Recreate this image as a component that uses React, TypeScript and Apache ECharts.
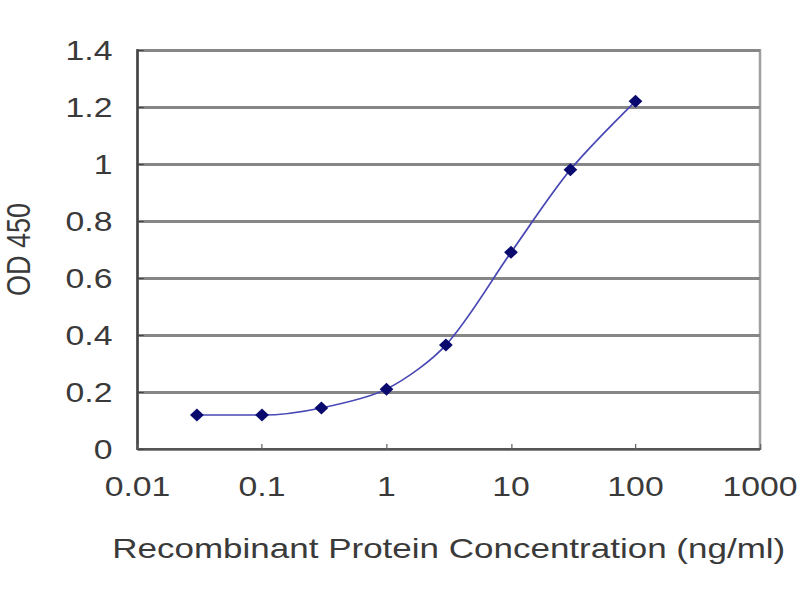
import React, { useEffect, useRef } from "react";
import * as echarts from "echarts";

const concentrations = [0.03, 0.1, 0.3, 1, 3, 10, 30, 100];
const odValues = [0.119, 0.119, 0.144, 0.21, 0.365, 0.69, 0.98, 1.22];
const xTitle = "Recombinant Protein Concentration (ng/ml)";
const yTitle = "OD 450";

const STRETCH = 1.25;

export default function App() {
  const ref = useRef<HTMLDivElement>(null);
  useEffect(() => {
    if (!ref.current) return;
    const chart = echarts.init(ref.current, undefined, { renderer: "svg" });
    const font = "Liberation Sans, Arial, sans-serif";
    chart.setOption({
      animation: false,
      backgroundColor: "#ffffff",
      grid: {
        left: 110,
        right: 32,
        top: 50,
        bottom: 151,
        outerBoundsMode: "none",
        containLabel: false,
        show: true,
        borderColor: "#a0a0a0",
        borderWidth: 2,
      },
      xAxis: {
        type: "log",
        logBase: 10,
        min: 0.01,
        max: 1000,
        name: xTitle,
        nameLocation: "middle",
        nameGap: 85,
        nameTextStyle: { color: "#3a3a3a", fontSize: 28, fontFamily: font },
        axisLine: { show: true, lineStyle: { color: "#555", width: 2 } },
        axisTick: { show: true, inside: true, length: 5, lineStyle: { color: "#666" } },
        axisLabel: {
          color: "#3a3a3a",
          fontSize: 27,
          fontFamily: font,
          margin: 24,
          formatter: (v: number) => String(Number(v.toPrecision(3))),
        },
        splitLine: { show: false },
        minorTick: { show: false },
      },
      yAxis: {
        type: "value",
        min: 0,
        max: 1.4,
        interval: 0.2,
        name: yTitle,
        nameLocation: "middle",
        nameGap: 82,
        nameTextStyle: { color: "#3a3a3a", fontSize: 27, fontFamily: font },
        axisLine: { show: true, lineStyle: { color: "#444", width: 2 } },
        axisTick: { show: true, inside: true, length: 5, lineStyle: { color: "#444" } },
        axisLabel: {
          color: "#3a3a3a",
          fontSize: 27,
          fontFamily: font,
          margin: 20,
          formatter: (v: number) => String(Number(v.toFixed(1))),
        },
        splitLine: { show: true, lineStyle: { color: "#868686", width: 3 } },
      },
      series: [
        {
          type: "line",
          data: concentrations.map((c, i) => [c, odValues[i]]),
          smooth: 0.3,
          symbol: "diamond",
          symbolSize: [11, 13],
          lineStyle: { color: "#4848b4", width: 1.5 },
          itemStyle: { color: "#0a0a6e" },
        },
      ],
    });
    return () => chart.dispose();
  }, []);
  return (
    <div
      style={{
        position: "fixed",
        left: 0,
        top: 0,
        width: 800,
        height: 600,
        overflow: "hidden",
        background: "#ffffff",
      }}
    >
      <div
        ref={ref}
        style={{
          width: 800 / STRETCH,
          height: 600,
          transform: `scaleX(${STRETCH})`,
          transformOrigin: "0 0",
        }}
      />
    </div>
  );
}
